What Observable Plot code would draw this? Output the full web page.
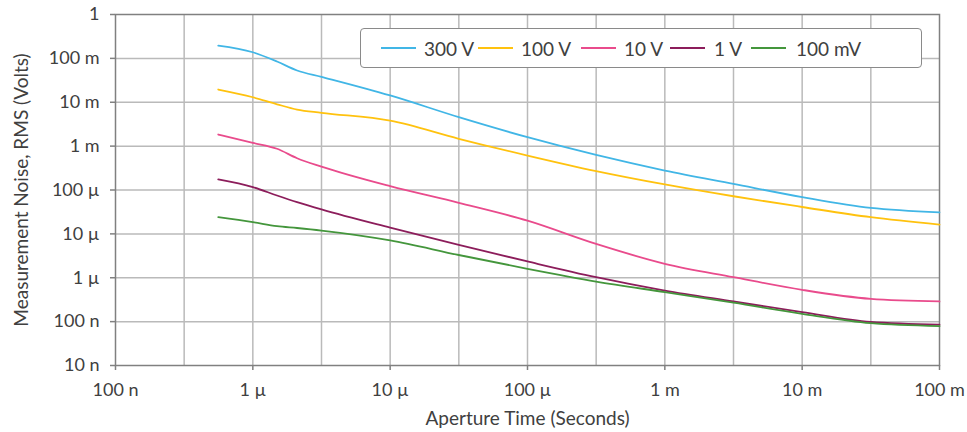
<!DOCTYPE html>
<html>
<head>
<meta charset="utf-8">
<script src="https://cdn.jsdelivr.net/npm/d3@7"></script>
<script src="https://cdn.jsdelivr.net/npm/@observablehq/plot@0.6"></script>
<style>
  html, body { margin: 0; padding: 0; background: #fff; }
  #wrap { position: relative; width: 967px; height: 432px; font-family: Lato, "Noto Sans", sans-serif; }
  #legend { position: absolute; left: 360px; top: 28px; width: 562px; height: 40px; border: 1.5px solid #8a8a8a; border-radius: 4px; background: #fff; box-sizing: border-box; }
  .item { position: absolute; top: 0; height: 100%; display: flex; align-items: center; font-size: 19px; color: #404040; }
  .sw { width: 35px; height: 0; border-top: 2px solid; margin-right: 8px; }
</style>
</head>
<body>
<div id="wrap"><div id="legend"></div></div>
<script>
// Aperture time (seconds)
const apertureTimes = [5.6e-7, 1e-6, 1.5e-6, 2.1e-6, 3.16e-6, 1e-5, 3.16e-5, 1e-4, 3.16e-4, 1e-3, 3.16e-3, 1e-2, 3.16e-2, 1e-1];
// Measurement noise RMS (volts) per range
const noise300V  = [0.196, 0.138, 0.085, 0.053, 0.038, 0.0143, 0.00457, 1.6e-3, 6.3e-4, 2.78e-4, 1.38e-4, 6.9e-5, 3.9e-5, 3.1e-5];
const noise100V  = [0.0195, 0.013, 0.009, 0.0068, 0.00575, 3.8e-3, 1.47e-3, 6.1e-4, 2.7e-4, 1.34e-4, 7.2e-5, 4.1e-5, 2.4e-5, 1.63e-5];
const noise10V   = [1.84e-3, 1.19e-3, 8.7e-4, 5.3e-4, 3.4e-4, 1.22e-4, 5.1e-5, 2.0e-5, 5.9e-6, 2.08e-6, 1.03e-6, 5.3e-7, 3.3e-7, 2.88e-7];
const noise1V    = [1.74e-4, 1.16e-4, 7.5e-5, 5.3e-5, 3.6e-5, 1.38e-5, 5.6e-6, 2.35e-6, 1.03e-6, 5.1e-7, 2.88e-7, 1.64e-7, 9.8e-8, 8.5e-8];
const noise100mV = [2.4e-5, 1.85e-5, 1.5e-5, 1.36e-5, 1.19e-5, 7.1e-6, 3.3e-6, 1.6e-6, 8.2e-7, 4.7e-7, 2.7e-7, 1.5e-7, 9.2e-8, 7.9e-8];

const seriesNames = ["300 V", "100 V", "10 V", "1 V", "100 mV"];
const seriesValues = [noise300V, noise100V, noise10V, noise1V, noise100mV];
const seriesColors = ["#41b6e6", "#ffc20e", "#e94b8c", "#8c1d5b", "#44963c"];

const xTicks = [1e-7, 1e-6, 1e-5, 1e-4, 1e-3, 1e-2, 1e-1];
const xTickLabels = ["100 n", "1 µ", "10 µ", "100 µ", "1 m", "10 m", "100 m"];
const xGrid = [3.1623e-7, 1e-6, 3.1623e-6, 1e-5, 3.1623e-5, 1e-4, 3.1623e-4, 1e-3, 3.1623e-3, 1e-2, 3.1623e-2];
const yTicks = [1e-8, 1e-7, 1e-6, 1e-5, 1e-4, 1e-3, 1e-2, 1e-1, 1];
const yTickLabels = ["10 n", "100 n", "1 µ", "10 µ", "100 µ", "1 m", "10 m", "100 m", "1"];
const xLabel = "Aperture Time (Seconds)";
const yLabel = "Measurement Noise, RMS (Volts)";

const rows = [];
seriesNames.forEach((name, s) => {
  apertureTimes.forEach((t, i) => rows.push({series: name, t, v: seriesValues[s][i]}));
});

const FS = 18;
const LFS = 19;
const chart = Plot.plot({
  width: 967,
  height: 432,
  marginLeft: 115,
  marginRight: 28,
  marginTop: 14,
  marginBottom: 67,
  style: {fontFamily: "Lato, 'Noto Sans', sans-serif", fontSize: FS + "px", color: "#404040", background: "#fff"},
  x: {type: "log", domain: [1e-7, 1e-1]},
  y: {type: "log", domain: [1e-8, 1]},
  color: {domain: seriesNames, range: seriesColors},
  marks: [
    Plot.ruleX(xGrid, {stroke: "#bababa", strokeWidth: 1.5}),
    Plot.ruleY(yTicks.slice(1, -1), {stroke: "#bababa", strokeWidth: 1.5}),
    Plot.frame({stroke: "#808080", strokeWidth: 1.5}),
    Plot.axisY(yTicks, {tickFormat: d => yTickLabels[yTicks.indexOf(d)], tickSize: 5, tickPadding: 11, stroke: "#808080", strokeWidth: 1.5, label: null, fill: "#404040", fontSize: FS}),
    Plot.axisX(xTicks, {tickFormat: d => xTickLabels[xTicks.indexOf(d)], tickSize: 5, tickPadding: 13, stroke: "#808080", strokeWidth: 1.5, label: null, fill: "#404040", fontSize: FS}),
    Plot.line(rows, {x: "t", y: "v", z: "series", stroke: "series", strokeWidth: 1.8, curve: "monotone-x"}),
    Plot.text([yLabel], {frameAnchor: "left", dx: -94, rotate: -90, textAnchor: "middle", lineAnchor: "middle", fontSize: LFS, fill: "#404040"}),
    Plot.text([xLabel], {frameAnchor: "bottom", dy: 53, textAnchor: "middle", lineAnchor: "middle", fontSize: LFS, fill: "#404040"})
  ]
});
document.getElementById("wrap").prepend(chart);

const legendPos = [[20, 63], [117, 160], [220, 263], [309, 353], [390, 435]];
const legend = document.getElementById("legend");
seriesNames.forEach((name, i) => {
  const item = document.createElement("div");
  item.className = "item";
  item.style.left = legendPos[i][0] + "px";
  const sw = document.createElement("div");
  sw.className = "sw";
  sw.style.borderTopColor = seriesColors[i];
  sw.style.marginRight = (legendPos[i][1] - legendPos[i][0] - 35) + "px";
  const lab = document.createElement("span");
  lab.textContent = name;
  item.append(sw, lab);
  legend.append(item);
});
</script>
</body>
</html>
